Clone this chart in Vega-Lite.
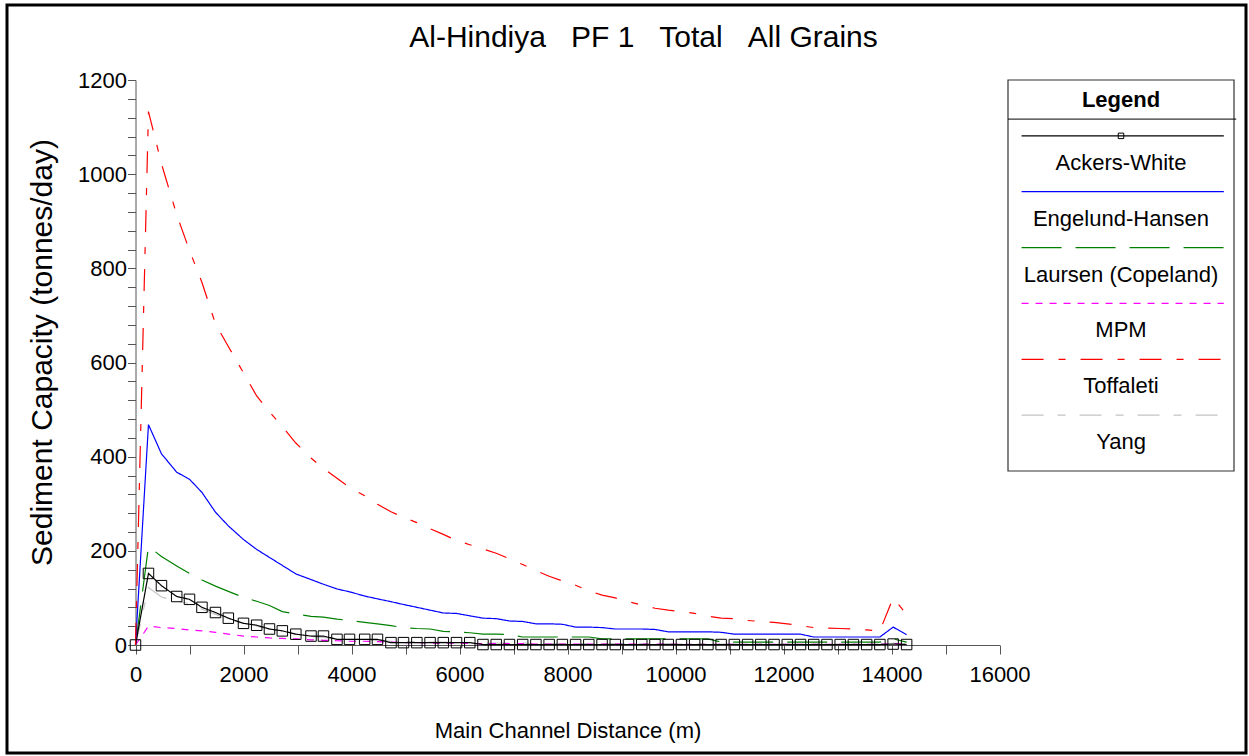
{
  "$schema": "https://vega.github.io/schema/vega-lite/v6.json",
  "width": 1249,
  "height": 756,
  "autosize": {"type": "fit", "contains": "padding"},
  "padding": {"left": 7, "top": 5, "right": 3, "bottom": 3},
  "background": "#ffffff",
  "config": {
    "view": {"stroke": "#000000", "strokeWidth": 3},
    "font": "Liberation Sans",
    "axis": {"labelOverlap": false, "labelFlush": false, "labelBound": false}
  },
  "title": {
    "text": "Al-Hindiya\u00a0\u00a0\u00a0PF 1\u00a0\u00a0\u00a0Total\u00a0\u00a0\u00a0All Grains",
    "font": "Liberation Sans",
    "fontSize": 30,
    "fontWeight": "normal",
    "color": "#000000",
    "anchor": "middle",
    "frame": "group",
    "offset": -48,
    "dx": 17
  },
  "datasets": {
    "profile": [
      {"distance": 0, "Ackers-White": 0, "Engelund-Hansen": 0, "Laursen (Copeland)": 0, "MPM": 0, "Toffaleti": 0, "Yang": 0},
      {"distance": 240, "Ackers-White": 152, "Engelund-Hansen": 468, "Laursen (Copeland)": 209, "MPM": 40, "Toffaleti": 1133, "Yang": 122},
      {"distance": 481, "Ackers-White": 126, "Engelund-Hansen": 406, "Laursen (Copeland)": 188, "MPM": 37, "Toffaleti": 1022, "Yang": 102},
      {"distance": 763, "Ackers-White": 103, "Engelund-Hansen": 367, "Laursen (Copeland)": 168, "MPM": 35, "Toffaleti": 914, "Yang": 93},
      {"distance": 1000, "Ackers-White": 97, "Engelund-Hansen": 352, "Laursen (Copeland)": 152, "MPM": 32, "Toffaleti": 838, "Yang": 88},
      {"distance": 1231, "Ackers-White": 80, "Engelund-Hansen": 324, "Laursen (Copeland)": 138, "MPM": 30, "Toffaleti": 770, "Yang": 76},
      {"distance": 1481, "Ackers-White": 69, "Engelund-Hansen": 282, "Laursen (Copeland)": 125, "MPM": 27, "Toffaleti": 682, "Yang": 65},
      {"distance": 1719, "Ackers-White": 57, "Engelund-Hansen": 253, "Laursen (Copeland)": 114, "MPM": 23, "Toffaleti": 634, "Yang": 55},
      {"distance": 2000, "Ackers-White": 46, "Engelund-Hansen": 224, "Laursen (Copeland)": 101, "MPM": 19, "Toffaleti": 578, "Yang": 45},
      {"distance": 2244, "Ackers-White": 42, "Engelund-Hansen": 203, "Laursen (Copeland)": 93, "MPM": 17, "Toffaleti": 529, "Yang": 40},
      {"distance": 2481, "Ackers-White": 34, "Engelund-Hansen": 186, "Laursen (Copeland)": 84, "MPM": 15, "Toffaleti": 495, "Yang": 34},
      {"distance": 2719, "Ackers-White": 30, "Engelund-Hansen": 169, "Laursen (Copeland)": 71, "MPM": 14, "Toffaleti": 464, "Yang": 28},
      {"distance": 2969, "Ackers-White": 23, "Engelund-Hansen": 151, "Laursen (Copeland)": 66, "MPM": 13, "Toffaleti": 429, "Yang": 23},
      {"distance": 3250, "Ackers-White": 19, "Engelund-Hansen": 139, "Laursen (Copeland)": 61, "MPM": 11, "Toffaleti": 397, "Yang": 18},
      {"distance": 3481, "Ackers-White": 19, "Engelund-Hansen": 129, "Laursen (Copeland)": 59, "MPM": 10, "Toffaleti": 375, "Yang": 16},
      {"distance": 3731, "Ackers-White": 12, "Engelund-Hansen": 119, "Laursen (Copeland)": 55, "MPM": 9, "Toffaleti": 354, "Yang": 13},
      {"distance": 3963, "Ackers-White": 12, "Engelund-Hansen": 113, "Laursen (Copeland)": 52, "MPM": 8, "Toffaleti": 335, "Yang": 12},
      {"distance": 4244, "Ackers-White": 12, "Engelund-Hansen": 104, "Laursen (Copeland)": 48, "MPM": 8, "Toffaleti": 317, "Yang": 11},
      {"distance": 4481, "Ackers-White": 12, "Engelund-Hansen": 98, "Laursen (Copeland)": 45, "MPM": 7, "Toffaleti": 299, "Yang": 10},
      {"distance": 4731, "Ackers-White": 5, "Engelund-Hansen": 92, "Laursen (Copeland)": 41, "MPM": 6, "Toffaleti": 283, "Yang": 8},
      {"distance": 4963, "Ackers-White": 5, "Engelund-Hansen": 86, "Laursen (Copeland)": 37, "MPM": 5, "Toffaleti": 271, "Yang": 7},
      {"distance": 5210, "Ackers-White": 5, "Engelund-Hansen": 80, "Laursen (Copeland)": 35, "MPM": 5, "Toffaleti": 260, "Yang": 7},
      {"distance": 5455, "Ackers-White": 5, "Engelund-Hansen": 74, "Laursen (Copeland)": 34, "MPM": 4, "Toffaleti": 247, "Yang": 6},
      {"distance": 5700, "Ackers-White": 5, "Engelund-Hansen": 68, "Laursen (Copeland)": 29, "MPM": 4, "Toffaleti": 235, "Yang": 6},
      {"distance": 5945, "Ackers-White": 5, "Engelund-Hansen": 67, "Laursen (Copeland)": 28, "MPM": 4, "Toffaleti": 222, "Yang": 5},
      {"distance": 6190, "Ackers-White": 5, "Engelund-Hansen": 62, "Laursen (Copeland)": 26, "MPM": 3, "Toffaleti": 213, "Yang": 5},
      {"distance": 6435, "Ackers-White": 1, "Engelund-Hansen": 57, "Laursen (Copeland)": 23, "MPM": 3, "Toffaleti": 204, "Yang": 4},
      {"distance": 6680, "Ackers-White": 1, "Engelund-Hansen": 56, "Laursen (Copeland)": 23, "MPM": 3, "Toffaleti": 195, "Yang": 4},
      {"distance": 6925, "Ackers-White": 1, "Engelund-Hansen": 51, "Laursen (Copeland)": 22, "MPM": 3, "Toffaleti": 183, "Yang": 4},
      {"distance": 7170, "Ackers-White": 1, "Engelund-Hansen": 50, "Laursen (Copeland)": 17, "MPM": 3, "Toffaleti": 171, "Yang": 4},
      {"distance": 7415, "Ackers-White": 1, "Engelund-Hansen": 45, "Laursen (Copeland)": 17, "MPM": 2, "Toffaleti": 158, "Yang": 3},
      {"distance": 7660, "Ackers-White": 1, "Engelund-Hansen": 45, "Laursen (Copeland)": 17, "MPM": 2, "Toffaleti": 146, "Yang": 3},
      {"distance": 7905, "Ackers-White": 1, "Engelund-Hansen": 44, "Laursen (Copeland)": 17, "MPM": 2, "Toffaleti": 136, "Yang": 3},
      {"distance": 8150, "Ackers-White": 1, "Engelund-Hansen": 38, "Laursen (Copeland)": 17, "MPM": 2, "Toffaleti": 127, "Yang": 3},
      {"distance": 8395, "Ackers-White": 1, "Engelund-Hansen": 38, "Laursen (Copeland)": 17, "MPM": 2, "Toffaleti": 115, "Yang": 3},
      {"distance": 8640, "Ackers-White": 1, "Engelund-Hansen": 37, "Laursen (Copeland)": 13, "MPM": 2, "Toffaleti": 106, "Yang": 3},
      {"distance": 8885, "Ackers-White": 1, "Engelund-Hansen": 34, "Laursen (Copeland)": 13, "MPM": 2, "Toffaleti": 100, "Yang": 3},
      {"distance": 9130, "Ackers-White": 1, "Engelund-Hansen": 34, "Laursen (Copeland)": 13, "MPM": 2, "Toffaleti": 92, "Yang": 3},
      {"distance": 9375, "Ackers-White": 1, "Engelund-Hansen": 34, "Laursen (Copeland)": 13, "MPM": 2, "Toffaleti": 85, "Yang": 3},
      {"distance": 9620, "Ackers-White": 1, "Engelund-Hansen": 33, "Laursen (Copeland)": 13, "MPM": 2, "Toffaleti": 78, "Yang": 3},
      {"distance": 9865, "Ackers-White": 1, "Engelund-Hansen": 28, "Laursen (Copeland)": 13, "MPM": 2, "Toffaleti": 74, "Yang": 3},
      {"distance": 10110, "Ackers-White": 1, "Engelund-Hansen": 28, "Laursen (Copeland)": 13, "MPM": 1.5, "Toffaleti": 71, "Yang": 2},
      {"distance": 10355, "Ackers-White": 1, "Engelund-Hansen": 28, "Laursen (Copeland)": 13, "MPM": 1.5, "Toffaleti": 67, "Yang": 2},
      {"distance": 10600, "Ackers-White": 1, "Engelund-Hansen": 28, "Laursen (Copeland)": 13, "MPM": 1.5, "Toffaleti": 61, "Yang": 2},
      {"distance": 10845, "Ackers-White": 1, "Engelund-Hansen": 27, "Laursen (Copeland)": 6, "MPM": 1.5, "Toffaleti": 57, "Yang": 2},
      {"distance": 11090, "Ackers-White": 1, "Engelund-Hansen": 23, "Laursen (Copeland)": 6, "MPM": 1.5, "Toffaleti": 56, "Yang": 2},
      {"distance": 11335, "Ackers-White": 1, "Engelund-Hansen": 23, "Laursen (Copeland)": 6, "MPM": 1.5, "Toffaleti": 52, "Yang": 2},
      {"distance": 11580, "Ackers-White": 1, "Engelund-Hansen": 23, "Laursen (Copeland)": 6, "MPM": 1.5, "Toffaleti": 50, "Yang": 2},
      {"distance": 11825, "Ackers-White": 1, "Engelund-Hansen": 23, "Laursen (Copeland)": 6, "MPM": 1.5, "Toffaleti": 48, "Yang": 2},
      {"distance": 12070, "Ackers-White": 1, "Engelund-Hansen": 23, "Laursen (Copeland)": 6, "MPM": 1.5, "Toffaleti": 45, "Yang": 2},
      {"distance": 12315, "Ackers-White": 1, "Engelund-Hansen": 23, "Laursen (Copeland)": 6, "MPM": 1.5, "Toffaleti": 41, "Yang": 2},
      {"distance": 12560, "Ackers-White": 1, "Engelund-Hansen": 17, "Laursen (Copeland)": 6, "MPM": 1.5, "Toffaleti": 37, "Yang": 2},
      {"distance": 12805, "Ackers-White": 1, "Engelund-Hansen": 17, "Laursen (Copeland)": 6, "MPM": 1.5, "Toffaleti": 36, "Yang": 2},
      {"distance": 13050, "Ackers-White": 1, "Engelund-Hansen": 17, "Laursen (Copeland)": 6, "MPM": 1.5, "Toffaleti": 35, "Yang": 2},
      {"distance": 13295, "Ackers-White": 1, "Engelund-Hansen": 17, "Laursen (Copeland)": 6, "MPM": 1.5, "Toffaleti": 34, "Yang": 2},
      {"distance": 13540, "Ackers-White": 1, "Engelund-Hansen": 17, "Laursen (Copeland)": 6, "MPM": 1.5, "Toffaleti": 32, "Yang": 2},
      {"distance": 13785, "Ackers-White": 1, "Engelund-Hansen": 17, "Laursen (Copeland)": 6, "MPM": 1.5, "Toffaleti": 30, "Yang": 2},
      {"distance": 14030, "Ackers-White": 2, "Engelund-Hansen": 38, "Laursen (Copeland)": 13, "MPM": 3, "Toffaleti": 100, "Yang": 4},
      {"distance": 14280, "Ackers-White": 1, "Engelund-Hansen": 22, "Laursen (Copeland)": 6, "MPM": 1.5, "Toffaleti": 65, "Yang": 2}
    ],
    "legendItems": [
      {"method": "Ackers-White", "rank": 1},
      {"method": "Engelund-Hansen", "rank": 2},
      {"method": "Laursen (Copeland)", "rank": 3},
      {"method": "MPM", "rank": 4},
      {"method": "Toffaleti", "rank": 5},
      {"method": "Yang", "rank": 6}
    ]
  },
  "resolve": {"scale": {"x": "independent", "y": "independent"}},
  "layer": [
    {
      "data": {"name": "profile"},
      "transform": [
        {"fold": ["Yang", "MPM", "Laursen (Copeland)", "Ackers-White", "Engelund-Hansen", "Toffaleti"], "as": ["method", "capacity"]}
      ],
      "encoding": {
        "x": {
          "field": "distance", "type": "quantitative",
          "title": "Main Channel Distance (m)",
          "scale": {"domain": [0, 16000], "range": [128.5, 992.5], "nice": false, "zero": false},
          "axis": {
            "offset": -108,
            "values": [0, 1000, 2000, 3000, 4000, 5000, 6000, 7000, 8000, 9000, 10000, 11000, 12000, 13000, 14000, 15000, 16000],
            "labelExpr": "datum.value % 2000 === 0 ? datum.label : ''",
            "format": "d",
            "grid": false,
            "domainColor": "#555555",
            "tickColor": "#555555",
            "tickSize": 9,
            "labelPadding": 10,
            "labelFont": "Liberation Sans",
            "labelFontSize": 22,
            "labelColor": "#000000",
            "labelFlush": false,
            "labelOverlap": false,
            "titleFont": "Liberation Sans",
            "titleFontSize": 22,
            "titleFontWeight": "normal",
            "titleColor": "#000000",
            "titlePadding": 35
          }
        },
        "y": {
          "field": "capacity", "type": "quantitative",
          "title": "Sediment Capacity (tonnes/day)",
          "scale": {"domain": [0, 1200], "range": [640, 75], "nice": false},
          "axis": {
            "offset": -128.5,
            "values": [0, 40, 80, 120, 160, 200, 240, 280, 320, 360, 400, 440, 480, 520, 560, 600, 640, 680, 720, 760, 800, 840, 880, 920, 960, 1000, 1040, 1080, 1120, 1160, 1200],
            "labelExpr": "datum.value % 200 === 0 ? datum.label : ''",
            "format": "d",
            "grid": false,
            "domainColor": "#555555",
            "tickColor": "#555555",
            "tickSize": 8,
            "labelPadding": 1,
            "labelFont": "Liberation Sans",
            "labelFontSize": 22,
            "labelColor": "#000000",
            "labelOverlap": false,
            "titleFont": "Liberation Sans",
            "titleFontSize": 30,
            "titleFontWeight": "normal",
            "titleColor": "#000000",
            "titlePadding": 20,
            "titleY": 347
          }
        }
      },
      "layer": [
        {
          "mark": {"type": "line", "strokeWidth": 1.2},
          "encoding": {
            "color": {
              "field": "method", "type": "nominal", "legend": null,
              "scale": {
                "domain": ["Ackers-White", "Engelund-Hansen", "Laursen (Copeland)", "MPM", "Toffaleti", "Yang"],
                "range": ["#000000", "#0000ff", "#008000", "#ff00ff", "#ff0000", "#c4c4c4"]
              }
            },
            "strokeDash": {
              "field": "method", "type": "nominal", "legend": null,
              "scale": {
                "domain": ["Ackers-White", "Engelund-Hansen", "Laursen (Copeland)", "MPM", "Toffaleti", "Yang"],
                "range": [[1, 0], [1, 0], [40, 14], [7, 7], [22, 15, 7, 15], [22, 14, 8, 14]]
              }
            }
          }
        },
        {
          "transform": [{"filter": "datum.method === 'Ackers-White'"}],
          "mark": {"type": "point", "shape": "square", "filled": false, "size": 110, "color": "#000000", "strokeWidth": 1, "opacity": 1}
        }
      ]
    },
    {
      "layer": [
        {
          "data": {"values": [{}]},
          "mark": {"type": "rect", "fill": "#ffffff", "fillOpacity": 0, "stroke": "#333333", "strokeWidth": 1.2},
          "encoding": {
            "x": {"datum": 0, "type": "quantitative", "scale": {"domain": [0, 1], "range": [1001, 1227], "nice": false, "zero": false}, "axis": null},
            "x2": {"datum": 1},
            "y": {"datum": 0, "type": "quantitative", "scale": {"domain": [0, 7], "range": [75, 466], "nice": false, "zero": false}, "axis": null},
            "y2": {"datum": 7}
          }
        },
        {
          "data": {"values": [{}]},
          "mark": {"type": "rule", "color": "#000000", "strokeWidth": 1},
          "encoding": {
            "x": {"datum": 0, "type": "quantitative"},
            "x2": {"datum": 1.01},
            "y": {"datum": 0.7, "type": "quantitative"}
          }
        },
        {
          "data": {"values": [{}]},
          "mark": {"type": "text", "text": "Legend", "font": "Liberation Sans", "fontSize": 22, "fontWeight": "bold", "color": "#000000", "align": "center", "baseline": "middle"},
          "encoding": {
            "x": {"datum": 0.5, "type": "quantitative"},
            "y": {"datum": 0.35, "type": "quantitative"}
          }
        },
        {
          "data": {"name": "legendItems"},
          "mark": {"type": "rule", "strokeWidth": 1.2},
          "encoding": {
            "x": {"datum": 0.06, "type": "quantitative"},
            "x2": {"datum": 0.955},
            "y": {"field": "rank", "type": "quantitative"},
            "color": {"field": "method", "type": "nominal", "legend": null},
            "strokeDash": {"field": "method", "type": "nominal", "legend": null}
          }
        },
        {
          "data": {"values": [{}]},
          "mark": {"type": "point", "shape": "square", "filled": false, "size": 30, "color": "#000000", "strokeWidth": 1, "opacity": 1},
          "encoding": {
            "x": {"datum": 0.5, "type": "quantitative"},
            "y": {"datum": 1, "type": "quantitative"}
          }
        },
        {
          "data": {"name": "legendItems"},
          "mark": {"type": "text", "font": "Liberation Sans", "fontSize": 22, "color": "#000000", "align": "center", "baseline": "middle", "dy": 27},
          "encoding": {
            "x": {"datum": 0.5, "type": "quantitative"},
            "y": {"field": "rank", "type": "quantitative"},
            "text": {"field": "method", "type": "nominal"}
          }
        }
      ]
    }
  ]
}
